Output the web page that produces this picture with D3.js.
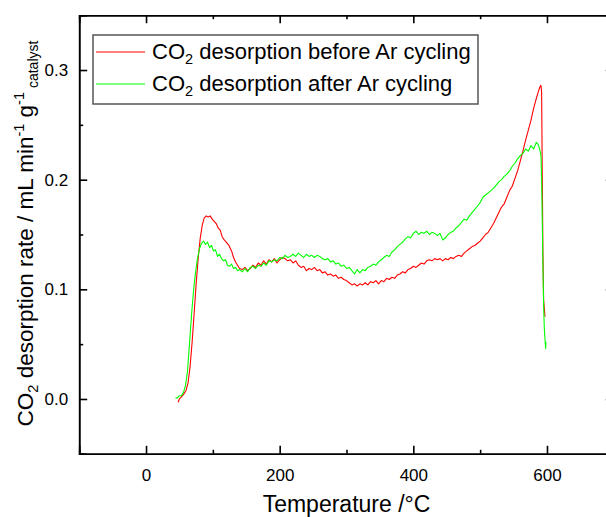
<!DOCTYPE html>
<html>
<head>
<meta charset="utf-8">
<script src="https://cdnjs.cloudflare.com/ajax/libs/d3/7.8.5/d3.min.js"></script>
<style>
  body { margin: 0; background: #fff; }
  svg text { font-family: "Liberation Sans", Arial, sans-serif; fill: #000; }
</style>
</head>
<body>
<svg id="chart" width="606" height="517"></svg>
<script>
// CO2 desorption before Ar cycling (red)
const tempBefore = [48, 50, 53, 56, 60, 63, 66, 69, 72, 75, 78, 81, 84, 87, 90, 93, 96, 99, 102, 105,
  108, 111, 114, 117, 120, 124, 128, 131, 134, 137, 140, 144, 148, 152, 156, 160, 164, 168, 172, 176,
  180, 184, 188, 192, 196, 200, 204, 208, 212, 216, 220, 224, 228, 232, 236, 240, 244, 248, 252, 256,
  260, 264, 268, 272, 276, 280, 284, 288, 292, 296, 300, 304, 308, 312, 316, 320, 324, 328, 332, 336,
  340, 344, 348, 352, 356, 360, 364, 368, 372, 376, 380, 384, 388, 392, 396, 400, 404, 408, 412, 416,
  420, 424, 428, 432, 436, 440, 444, 448, 452, 456, 460, 464, 468, 472, 476, 480, 484, 488, 492, 496,
  500, 504, 508, 512, 516, 520, 524, 528, 532, 536, 540, 544, 548, 552, 556, 560, 564, 568, 572, 576,
  580, 584, 587, 589, 591, 592, 593, 594, 595, 596, 597];
const rateBefore = [-0.003, 0.000, 0.002, 0.004, 0.008, 0.015, 0.030, 0.052, 0.078, 0.105, 0.128, 0.146, 0.158, 0.165, 0.167, 0.166, 0.167, 0.164, 0.162, 0.160,
  0.156, 0.154, 0.148, 0.145, 0.143, 0.140, 0.135, 0.129, 0.125, 0.122, 0.119, 0.118, 0.120, 0.117, 0.119, 0.122, 0.120, 0.124, 0.122, 0.126,
  0.123, 0.127, 0.125, 0.128, 0.124, 0.127, 0.129, 0.128, 0.126, 0.127, 0.124, 0.126, 0.122, 0.120, 0.121, 0.117, 0.119, 0.118, 0.120, 0.117,
  0.118, 0.115, 0.116, 0.113, 0.114, 0.112, 0.113, 0.110, 0.111, 0.109, 0.108, 0.106, 0.104, 0.105, 0.103, 0.105, 0.104, 0.106, 0.104, 0.107,
  0.106, 0.108, 0.105, 0.108, 0.107, 0.110, 0.109, 0.111, 0.110, 0.113, 0.114, 0.116, 0.115, 0.118, 0.119, 0.121, 0.120, 0.122, 0.124, 0.123,
  0.126, 0.127, 0.126, 0.128, 0.127, 0.128, 0.126, 0.128, 0.127, 0.129, 0.128, 0.130, 0.131, 0.130, 0.133, 0.135, 0.137, 0.139, 0.140, 0.142,
  0.144, 0.147, 0.150, 0.152, 0.156, 0.160, 0.165, 0.170, 0.175, 0.178, 0.184, 0.190, 0.194, 0.201, 0.208, 0.217, 0.226, 0.236, 0.245, 0.254,
  0.265, 0.274, 0.280, 0.284, 0.286, 0.280, 0.200, 0.130, 0.090, 0.083, 0.075];

// CO2 desorption after Ar cycling (green)
const tempAfter = [44, 47, 50, 53, 56, 59, 62, 65, 68, 71, 74, 77, 80, 83, 86, 89, 92, 95, 98, 101,
  104, 107, 110, 113, 116, 119, 122, 125, 128, 131, 134, 137, 140, 144, 148, 152, 156, 160, 164, 168,
  172, 176, 180, 184, 188, 192, 196, 200, 204, 208, 212, 216, 220, 224, 228, 232, 236, 240, 244, 248,
  252, 256, 260, 264, 268, 272, 276, 280, 284, 288, 292, 296, 300, 304, 308, 312, 316, 320, 324, 328,
  332, 336, 340, 344, 348, 352, 356, 360, 364, 368, 372, 376, 380, 384, 388, 392, 396, 400, 404, 408,
  412, 416, 420, 424, 428, 432, 436, 440, 444, 448, 452, 456, 460, 464, 468, 472, 476, 480, 484, 488,
  492, 496, 500, 504, 508, 512, 516, 520, 524, 528, 532, 536, 540, 544, 548, 552, 556, 560, 564, 568,
  572, 576, 580, 584, 587, 589, 591, 592, 593, 594, 595, 596, 597, 598, 598.5];
const rateAfter = [0.001, 0.001, 0.003, 0.003, 0.006, 0.012, 0.025, 0.050, 0.076, 0.098, 0.115, 0.128, 0.137, 0.142, 0.144, 0.141, 0.143, 0.138, 0.140, 0.135,
  0.136, 0.130, 0.132, 0.128, 0.126, 0.127, 0.122, 0.121, 0.123, 0.119, 0.120, 0.117, 0.118, 0.116, 0.119, 0.116, 0.120, 0.121, 0.119, 0.122,
  0.121, 0.124, 0.122, 0.126, 0.125, 0.127, 0.126, 0.129, 0.128, 0.131, 0.129, 0.130, 0.132, 0.130, 0.133, 0.131, 0.129, 0.132, 0.130, 0.131,
  0.129, 0.131, 0.130, 0.128, 0.127, 0.128, 0.125, 0.126, 0.123, 0.124, 0.121, 0.122, 0.119, 0.120, 0.117, 0.114, 0.118, 0.115, 0.118, 0.117,
  0.120, 0.121, 0.123, 0.122, 0.125, 0.127, 0.129, 0.131, 0.130, 0.134, 0.136, 0.139, 0.141, 0.143, 0.146, 0.148, 0.147, 0.151, 0.153, 0.150,
  0.152, 0.151, 0.153, 0.150, 0.152, 0.151, 0.149, 0.151, 0.145, 0.147, 0.150, 0.152, 0.153, 0.156, 0.158, 0.161, 0.164, 0.163, 0.167, 0.170,
  0.173, 0.176, 0.179, 0.184, 0.186, 0.188, 0.190, 0.192, 0.195, 0.198, 0.200, 0.203, 0.205, 0.208, 0.212, 0.215, 0.219, 0.222, 0.224, 0.228,
  0.226, 0.231, 0.228, 0.234, 0.232, 0.228, 0.222, 0.200, 0.160, 0.120, 0.085, 0.065, 0.055, 0.046, 0.052];

const xMajorTicks = [0, 200, 400, 600];
const xMinorTicks = [100, 300, 500];
const yMajorTicks = [0.0, 0.1, 0.2, 0.3];
const yMinorTicks = [0.05, 0.15, 0.25];
const seriesNames = ["before Ar cycling", "after Ar cycling"];
const seriesColors = ["#ff0000", "#00ff00"];

const svg = d3.select("#chart");

// plot frame runs past the right edge of the picture, like the original
const x = d3.scaleLinear().domain([-100, 700]).range([79.2, 613.8]);
const y = d3.scaleLinear().domain([-0.05, 0.35]).range([453.8, 15.2]);

// curves
const line = d3.line()
  .x(d => x(d[0]))
  .y(d => y(d[1]));

const series = [
  d3.zip(tempBefore, rateBefore),
  d3.zip(tempAfter, rateAfter)
];

svg.append("g")
  .selectAll("path")
  .data(series)
  .join("path")
  .attr("d", line)
  .attr("fill", "none")
  .attr("stroke", (d, i) => seriesColors[i])
  .attr("stroke-width", 1.1)
  .attr("stroke-linejoin", "round");

// axes, ticks pointing inward
function styleAxis(g) {
  g.select(".domain").attr("stroke", "#000").attr("stroke-width", 1.6);
  g.selectAll(".tick line").attr("stroke", "#000").attr("stroke-width", 1.6);
  g.selectAll("text").style("font-family", "Liberation Sans, Arial, sans-serif").style("font-size", "17px").attr("fill", "#000");
}

svg.append("g")
  .attr("transform", "translate(0," + y.range()[0] + ")")
  .call(d3.axisBottom(x).tickValues(xMajorTicks).tickSize(-8).tickPadding(15).tickFormat(d3.format("d")))
  .call(styleAxis);
svg.append("g")
  .attr("transform", "translate(0," + y.range()[0] + ")")
  .call(d3.axisBottom(x).tickValues(xMinorTicks).tickSize(-4).tickFormat(""))
  .call(styleAxis);

svg.append("g")
  .attr("transform", "translate(0," + y.range()[1] + ")")
  .call(d3.axisTop(x).tickValues(xMajorTicks).tickSize(-8).tickFormat(""))
  .call(styleAxis);
svg.append("g")
  .attr("transform", "translate(0," + y.range()[1] + ")")
  .call(d3.axisTop(x).tickValues(xMinorTicks).tickSize(-4).tickFormat(""))
  .call(styleAxis);

svg.append("g")
  .attr("transform", "translate(" + x.range()[0] + ",0)")
  .call(d3.axisLeft(y).tickValues(yMajorTicks).tickSize(-8).tickPadding(11).tickFormat(d3.format(".1f")))
  .call(styleAxis);
svg.append("g")
  .attr("transform", "translate(" + x.range()[0] + ",0)")
  .call(d3.axisLeft(y).tickValues(yMinorTicks).tickSize(-4).tickFormat(""))
  .call(styleAxis);

svg.append("g")
  .attr("transform", "translate(" + x.range()[1] + ",0)")
  .call(d3.axisRight(y).tickValues(yMajorTicks).tickSize(-8).tickFormat(""))
  .call(styleAxis);

// axis titles
svg.append("text")
  .attr("x", (x.range()[0] + x.range()[1]) / 2)
  .attr("y", 512)
  .attr("text-anchor", "middle")
  .style("font-size", "23px")
  .text("Temperature /°C");

const yTitle = svg.append("text")
  .attr("transform", "translate(33," + ((y.range()[0] + y.range()[1]) / 2 - 1) + ") rotate(-90)")
  .attr("text-anchor", "middle")
  .style("font-size", "22.5px");
yTitle.append("tspan").text("CO");
yTitle.append("tspan").attr("dy", 5).style("font-size", "14.5px").text("2");
yTitle.append("tspan").attr("dy", -5).text(" desorption rate / mL min");
yTitle.append("tspan").attr("dy", -9).style("font-size", "14.5px").text("-1");
yTitle.append("tspan").attr("dy", 9).text(" g");
yTitle.append("tspan").attr("dy", -9).style("font-size", "14.5px").text("-1");
yTitle.append("tspan").attr("dy", 14).style("font-size", "14px").text(" catalyst");

// legend
const legend = svg.append("g");
legend.append("rect")
  .attr("x", 93)
  .attr("y", 35)
  .attr("width", 385)
  .attr("height", 69)
  .attr("fill", "#fff")
  .attr("stroke", "#555")
  .attr("stroke-width", 1.5);

const legendRows = legend.selectAll("g.row")
  .data(seriesNames)
  .join("g")
  .attr("class", "row")
  .attr("transform", (d, i) => "translate(0," + (52 + i * 32) + ")");

legendRows.append("line")
  .attr("x1", 96)
  .attr("x2", 145)
  .attr("stroke", (d, i) => seriesColors[i])
  .attr("stroke-width", 1.1);

const legendText = legendRows.append("text")
  .attr("x", 152)
  .attr("y", 7)
  .style("font-size", "22px");
legendText.append("tspan").text("CO");
legendText.append("tspan").attr("dy", 5).style("font-size", "14.5px").text("2");
legendText.append("tspan").attr("dy", -5).text(d => " desorption " + d);
</script>
</body>
</html>
